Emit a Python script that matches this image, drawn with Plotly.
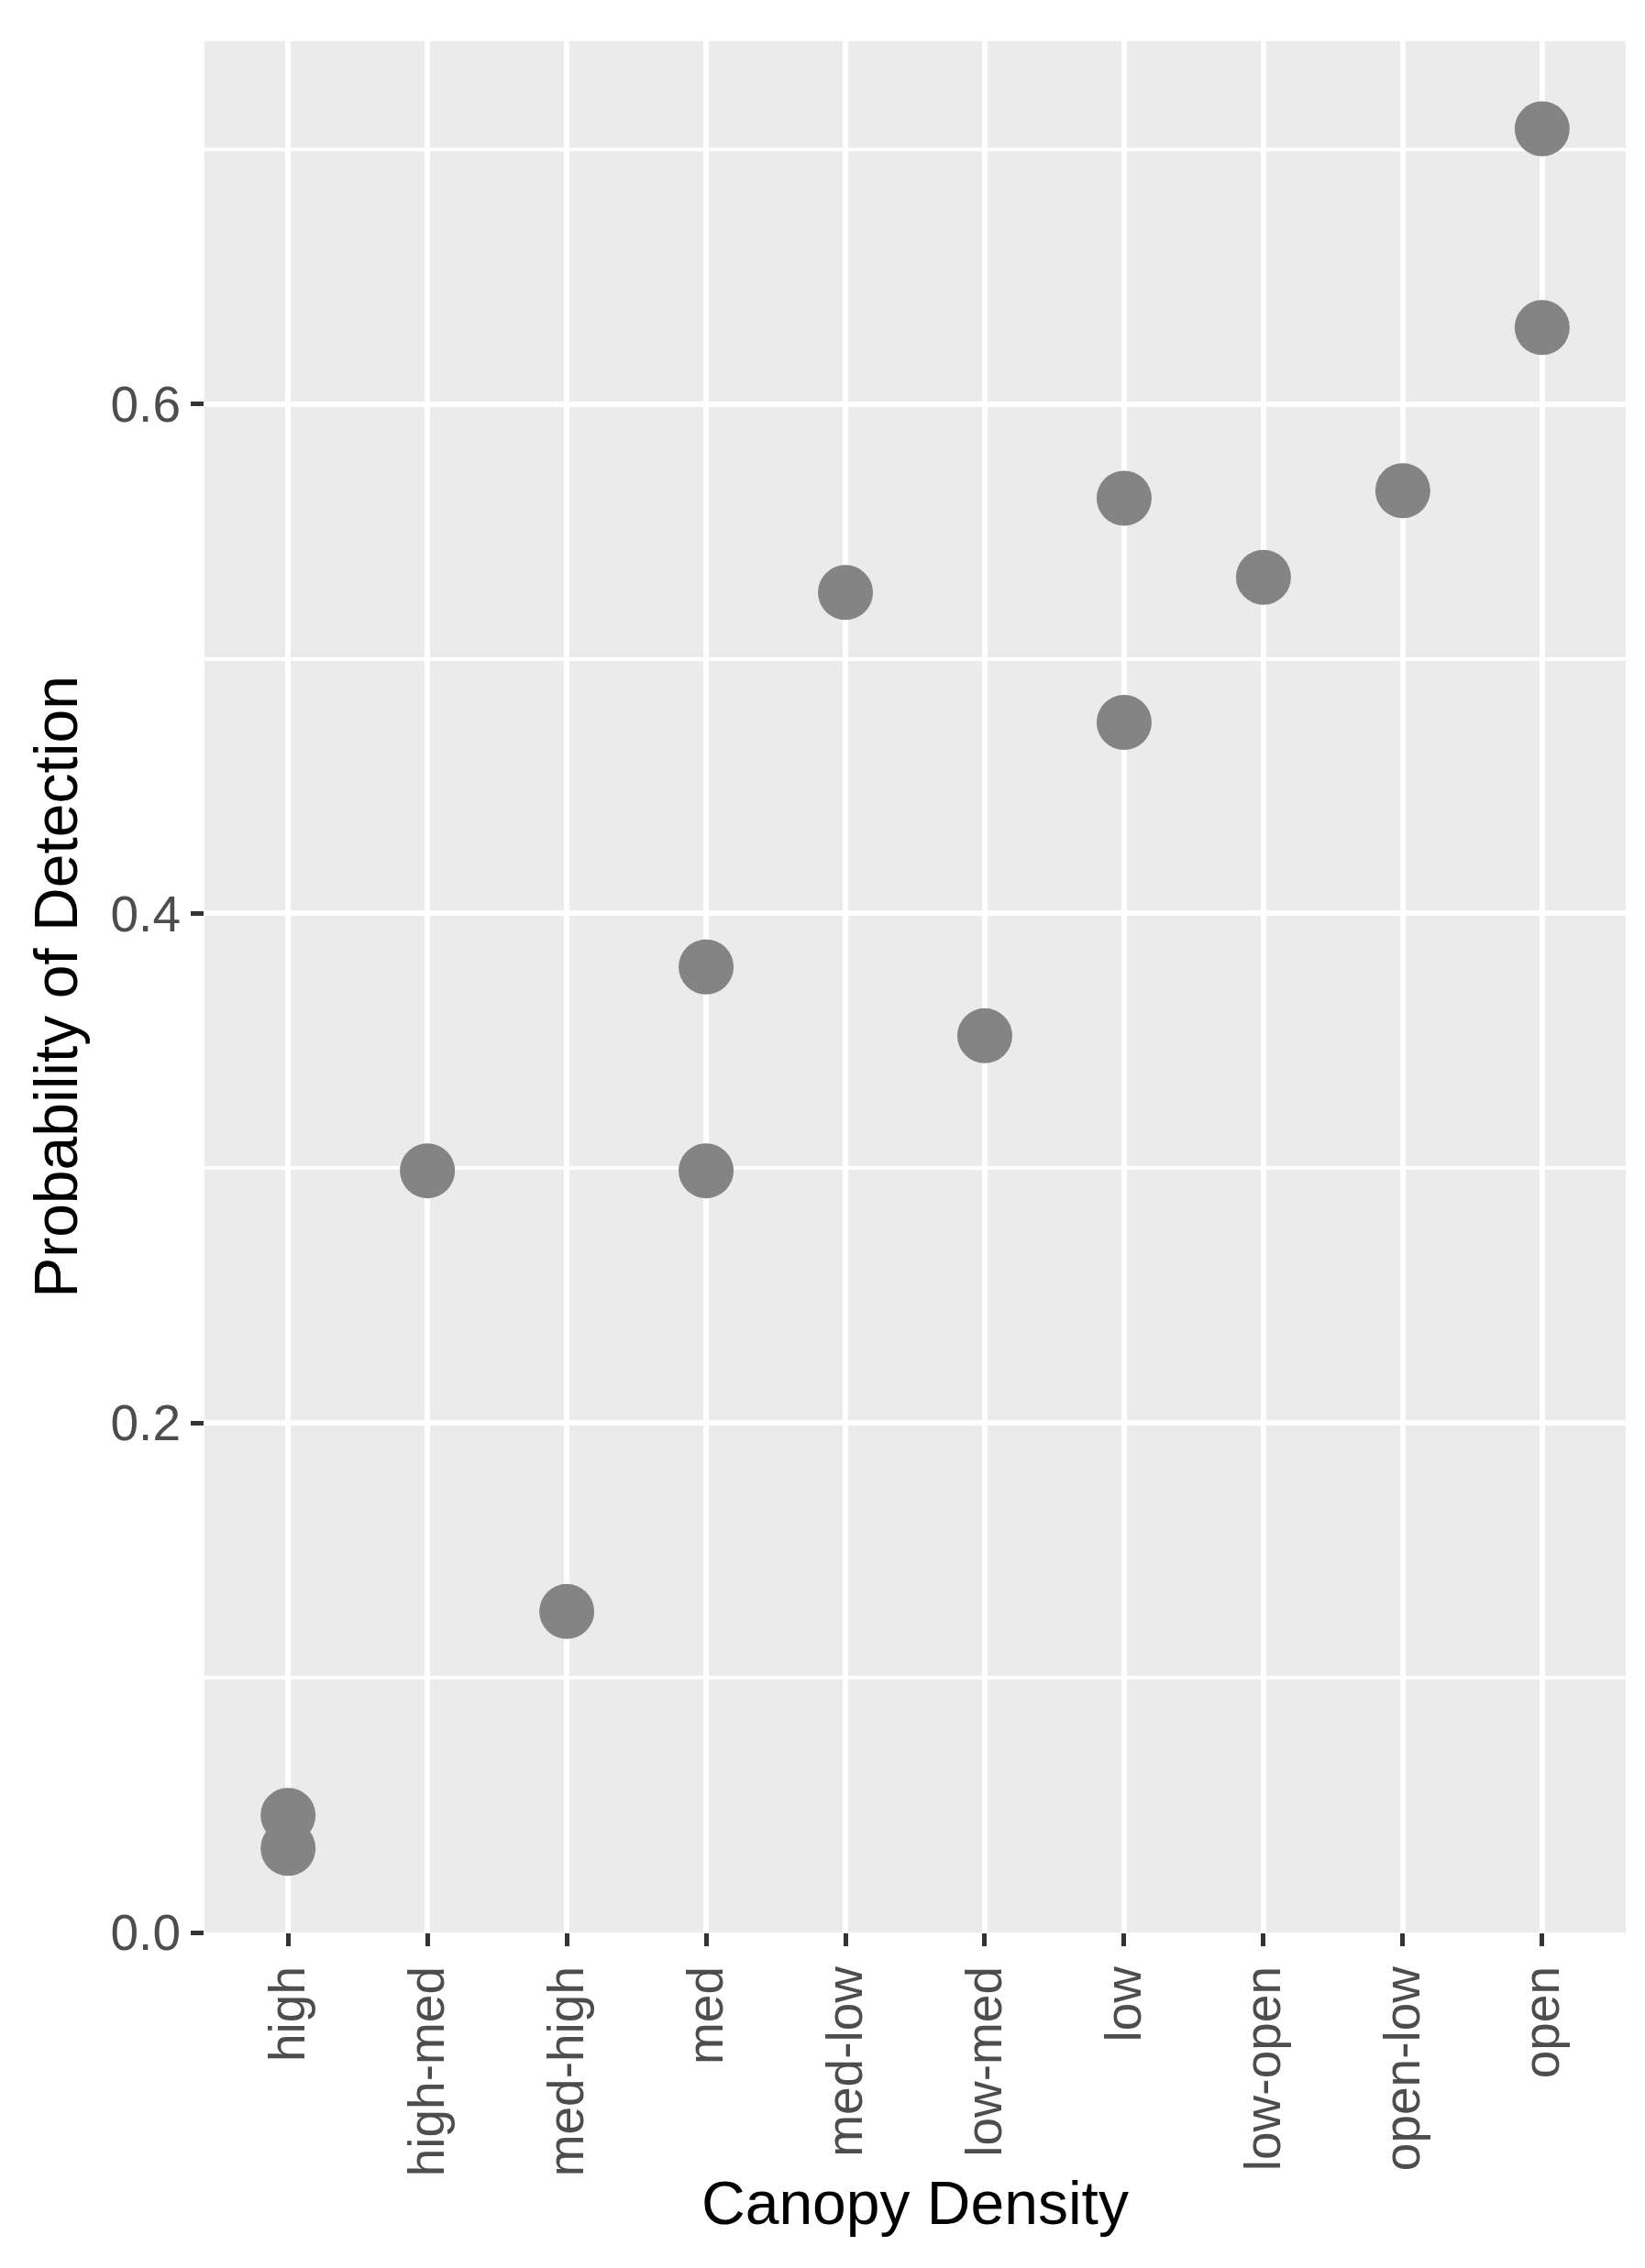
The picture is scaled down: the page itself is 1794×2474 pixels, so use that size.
import plotly.graph_objects as go

categories = ["high", "high-med", "med-high", "med", "med-low",
              "low-med", "low", "low-open", "open-low", "open"]

point_category = ["high", "high", "high-med", "med-high", "med", "med",
                  "med-low", "low-med", "low", "low", "low-open",
                  "open-low", "open", "open"]
detection = [0.046, 0.033, 0.299, 0.126, 0.379, 0.299,
             0.526, 0.352, 0.563, 0.475, 0.532,
             0.566, 0.708, 0.630]

y_ticks = [0.0, 0.2, 0.4, 0.6]

FONT = "Liberation Sans, Arial, sans-serif"

fig = go.Figure()
fig.add_trace(go.Scatter(
    x=point_category, y=detection, mode="markers",
    marker=dict(size=60, color="#848484", line=dict(width=0)),
    showlegend=False,
))

fig.update_layout(
    width=1794, height=2474,
    margin=dict(l=215, r=29, t=37, b=374),
    paper_bgcolor="white",
    plot_bgcolor="#EBEBEB",
    font=dict(family=FONT),
    xaxis=dict(
        type="category",
        categoryorder="array", categoryarray=categories,
        range=[-0.6, len(categories) - 0.4],
        tickangle=-90,
        ticks="outside", ticklen=14, tickwidth=5, tickcolor="#333333",
        tickfont=dict(size=55, color="#4D4D4D", family=FONT),
        showgrid=True, gridcolor="white", gridwidth=6,
        zeroline=False, showline=False,
        title=dict(text="Canopy Density",
                   font=dict(size=66, color="black", family=FONT),
                   standoff=6),
    ),
    yaxis=dict(
        range=[0, 0.7424],
        tickvals=y_ticks,
        ticktext=[f"{v:.1f}" for v in y_ticks],
        ticks="outside", ticklen=14, tickwidth=5, tickcolor="#333333",
        tickfont=dict(size=55, color="#4D4D4D", family=FONT),
        showgrid=True, gridcolor="white", gridwidth=6,
        minor=dict(dtick=0.1, tick0=0, showgrid=True, gridcolor="white",
                   gridwidth=3.5, ticks=""),
        zeroline=False, showline=False,
        title=dict(text="Probability of Detection",
                   font=dict(size=66, color="black", family=FONT),
                   standoff=14),
    ),
)

fig.write_html("out.html")
